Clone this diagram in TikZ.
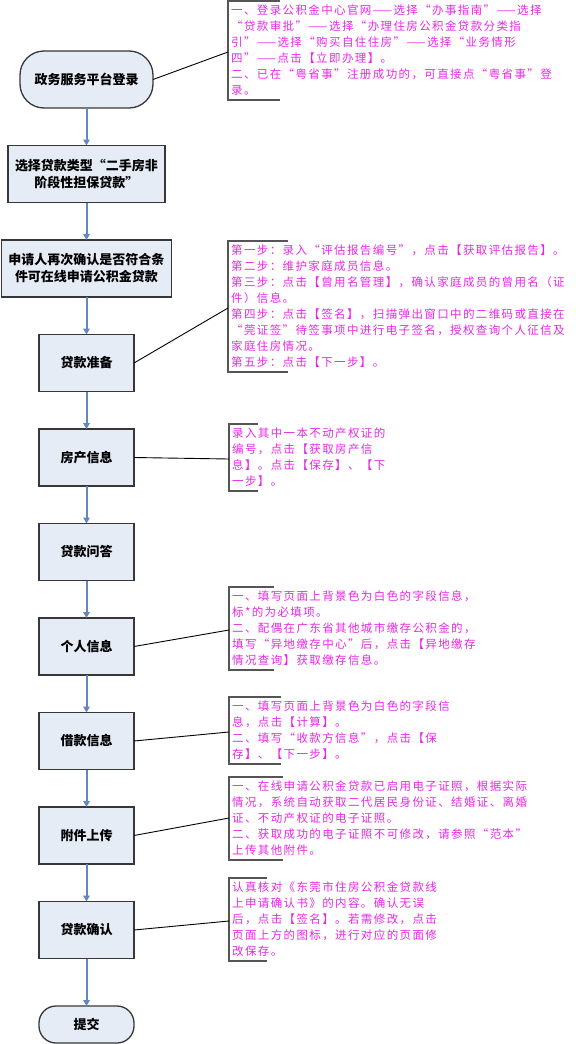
\documentclass[tikz,border=0pt]{standalone}
\usepackage{fontspec}
\usepackage{xcolor}
\usepackage{tikz}
\usetikzlibrary{arrows.meta, positioning}

\newfontfamily\cjk{Noto Sans CJK SC}
\newfontfamily\notecjk{Noto Sans CJK SC}[LetterSpace=12]

\definecolor{stepfill}{RGB}{230,236,246}
\definecolor{stepline}{RGB}{55,55,55}
\definecolor{flowblue}{RGB}{100,135,190}
\definecolor{notepink}{RGB}{230,40,230}
\definecolor{bracketgray}{RGB}{85,85,85}

\begin{document}
\begin{tikzpicture}[
  x=1pt, y=1pt,
  >={Triangle[width=6.5pt,length=6pt]},
  every node/.style={font=\cjk},
  stepbox/.style={draw=stepline, line width=1.3pt, fill=stepfill, minimum height=57pt, outer sep=0pt,
    align=center, inner sep=2pt, font=\cjk\bfseries\fontsize{13}{17}\selectfont},
  endbox/.style={stepbox, rounded corners=24pt},
  flow/.style={->, line width=2pt, draw=flowblue, fill=flowblue},
  note/.style={anchor=north west, align=left, text=notepink, inner xsep=3pt, inner ysep=4pt,
    font=\notecjk\fontsize{11.5}{16}\selectfont},
  bracket/.style={draw=bracketgray, line width=1.4pt},
  link/.style={black, line width=0.9pt}
]
\useasboundingbox (0,0) rectangle (579,-1044);

% main flow
\node[endbox, minimum width=133pt] (login) at (86.5,-79.5) {政务服务平台登录};
\node[stepbox, minimum width=157pt, below=37.5pt of login] (loantype) {选择贷款类型“二手房非\\阶段性担保贷款”};
\node[stepbox, minimum width=170pt, below=37.5pt of loantype] (recheck) {申请人再次确认是否符合条\\件可在线申请公积金贷款};
\node[stepbox, minimum width=95pt, below=37.5pt of recheck] (prep) {贷款准备};
\node[stepbox, minimum width=95pt, below=37.5pt of prep] (house) {房产信息};
\node[stepbox, minimum width=95pt, below=37.5pt of house] (qa) {贷款问答};
\node[stepbox, minimum width=95pt, below=37.5pt of qa] (personal) {个人信息};
\node[stepbox, minimum width=95pt, below=37.5pt of personal] (borrow) {借款信息};
\node[stepbox, minimum width=95pt, below=37.5pt of borrow] (attach) {附件上传};
\node[stepbox, minimum width=95pt, below=37.5pt of attach] (sign) {贷款确认};
\node[endbox, rounded corners=17pt, minimum width=95pt, minimum height=37pt, below=47.5pt of sign] (submit) {提交};

\draw[flow] (login) -- (loantype);
\draw[flow] (loantype) -- (recheck);
\draw[flow] (recheck) -- (prep);
\draw[flow] (prep) -- (house);
\draw[flow] (house) -- (qa);
\draw[flow] (qa) -- (personal);
\draw[flow] (personal) -- (borrow);
\draw[flow] (borrow) -- (attach);
\draw[flow] (attach) -- (sign);
\draw[flow] (sign) -- (submit);

% notes
\node[note] (note-login) at (228,-1) {一、登录公积金中心官网——选择“办事指南”——选择\\“贷款审批”——选择“办理住房公积金贷款分类指\\引”——选择“购买自住住房”——选择“业务情形\\四”——点击【立即办理】。\\二、已在“粤省事”注册成功的，可直接点“粤省事”登\\录。};
\draw[bracket] ([xshift=52pt]note-login.north west) -- (note-login.north west) -- (note-login.south west) -- ([xshift=52pt]note-login.south west);
\coordinate (login-tip) at ([yshift=-51pt]note-login.north west);
\draw[link] (login.east) -- (login-tip);

\node[note] (note-prep) at (228,-241) {第一步：录入“评估报告编号”，点击【获取评估报告】。\\第二步：维护家庭成员信息。\\第三步：点击【曾用名管理】，确认家庭成员的曾用名（证\\件）信息。\\第四步：点击【签名】，扫描弹出窗口中的二维码或直接在\\“莞证签”待签事项中进行电子签名，授权查询个人征信及\\家庭住房情况。\\第五步：点击【下一步】。};
\draw[bracket] ([xshift=60pt]note-prep.north west) -- (note-prep.north west) -- (note-prep.south west) -- ([xshift=60pt]note-prep.south west);
\coordinate (prep-tip) at ([yshift=-67pt]note-prep.north west);
\draw[link] (prep.east) -- (prep-tip);

\node[note] (note-house) at (229,-424) {录入其中一本不动产权证的\\编号，点击【获取房产信\\息】。点击【保存】、【下\\一步】。};
\draw[bracket] ([xshift=29pt]note-house.north west) -- (note-house.north west) -- (note-house.south west) -- ([xshift=29pt]note-house.south west);
\coordinate (house-tip) at ([yshift=-35pt]note-house.north west);
\draw[link] (house.east) -- (house-tip);

\node[note] (note-personal) at (229,-587) {一、填写页面上背景色为白色的字段信息，\\标*的为必填项。\\二、配偶在广东省其他城市缴存公积金的，\\填写“异地缴存中心”后，点击【异地缴存\\情况查询】获取缴存信息。};
\draw[bracket] ([xshift=45pt]note-personal.north west) -- (note-personal.north west) -- (note-personal.south west) -- ([xshift=45pt]note-personal.south west);
\coordinate (personal-tip) at ([yshift=-43pt]note-personal.north west);
\draw[link] (personal.east) -- (personal-tip);

\node[note] (note-borrow) at (229,-697) {一、填写页面上背景色为白色的字段信\\息，点击【计算】。\\二、填写“收款方信息”，点击【保\\存】、【下一步】。};
\draw[bracket] ([xshift=52pt]note-borrow.north west) -- (note-borrow.north west) -- (note-borrow.south west) -- ([xshift=52pt]note-borrow.south west);
\coordinate (borrow-tip) at ([yshift=-35pt]note-borrow.north west);
\draw[link] (borrow.east) -- (borrow-tip);

\node[note] (note-attach) at (229,-777) {一、在线申请公积金贷款已启用电子证照，根据实际\\情况，系统自动获取二代居民身份证、结婚证、离婚\\证、不动产权证的电子证照。\\二、获取成功的电子证照不可修改，请参照“范本”\\上传其他附件。};
\draw[bracket] ([xshift=54pt]note-attach.north west) -- (note-attach.north west) -- (note-attach.south west) -- ([xshift=54pt]note-attach.south west);
\coordinate (attach-tip) at ([yshift=-41pt]note-attach.north west);
\draw[link] (attach.east) -- (attach-tip);

\node[note] (note-sign) at (229,-878) {认真核对《东莞市住房公积金贷款线\\上申请确认书》的内容。确认无误\\后，点击【签名】。若需修改，点击\\页面上方的图标，进行对应的页面修\\改保存。};
\draw[bracket] ([xshift=38pt]note-sign.north west) -- (note-sign.north west) -- (note-sign.south west) -- ([xshift=38pt]note-sign.south west);
\coordinate (sign-tip) at ([yshift=-43pt]note-sign.north west);
\draw[link] (sign.east) -- (sign-tip);
\end{tikzpicture}
\end{document}
